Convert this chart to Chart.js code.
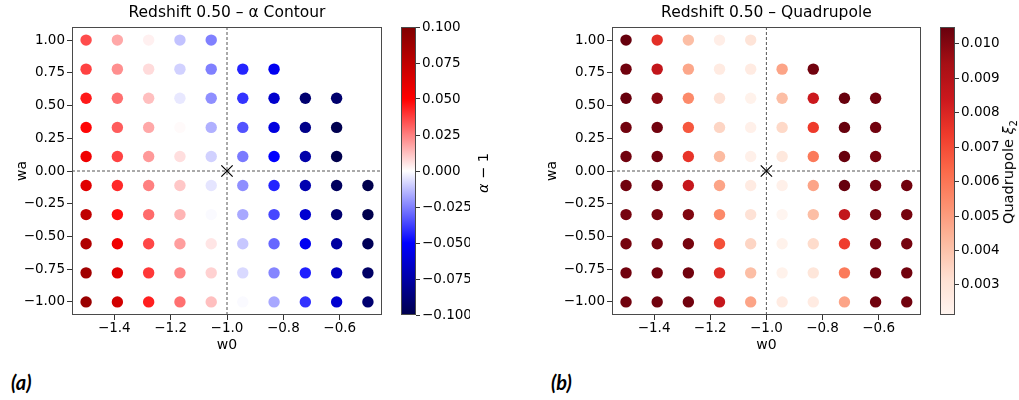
<!DOCTYPE html>
<html><head><meta charset="utf-8">
<script src="https://cdn.jsdelivr.net/npm/chart.js@4.4.1/dist/chart.umd.min.js"></script>
<style>
html,body{margin:0;padding:0;background:#fff;width:1019px;height:400px;overflow:hidden;position:relative;font-family:'DejaVu Sans',sans-serif;}
canvas{position:absolute;top:0;}
.cblabel{position:absolute;transform:translate(-50%,-50%) rotate(-90deg);white-space:nowrap;font-size:14.5px;color:#000;line-height:1;}
.panel{position:absolute;font-family:Lato,'Liberation Sans',sans-serif;font-weight:bold;font-style:italic;font-size:20px;line-height:1;color:#000;}
</style></head><body>
<canvas id="sa" width="395" height="360" style="left:0px"></canvas>
<canvas id="ca" width="80" height="360" style="left:390px"></canvas>
<canvas id="sb" width="400" height="360" style="left:530px"></canvas>
<canvas id="cb" width="89" height="360" style="left:930px"></canvas>
<div class="cblabel" style="left:483px;top:173px"><i>α</i> − 1</div>
<div class="cblabel" style="left:1010px;top:172px">Quadrupole <i>ξ</i><sub style="font-size:10px">2</sub></div>
<div class="panel" style="left:11px;top:372px">(a)</div>
<div class="panel" style="left:551px;top:372px">(b)</div>
<script>
// ---- grid coordinates ----
const W0 = [-1.5, -1.389, -1.278, -1.167, -1.056, -0.944, -0.833, -0.722, -0.611, -0.5];
const WA = [1.0, 0.778, 0.556, 0.333, 0.111, -0.111, -0.333, -0.556, -0.778, -1.0];

// ---- panel (a): alpha - 1, one array per wa row (null = no model) ----
const ALPHA_WA_P1000 = [0.035, 0.017, 0.003, -0.012, -0.025, null, null, null, null, null];
const ALPHA_WA_P0778 = [0.037, 0.022, 0.007, -0.009, -0.025, -0.043, -0.054, null, null, null];
const ALPHA_WA_P0556 = [0.045, 0.028, 0.0125, -0.0045, -0.022, -0.040, -0.064, -0.090, -0.091, null];
const ALPHA_WA_P0333 = [0.049, 0.032, 0.017, 0.001, -0.0155, -0.034, -0.059, -0.083, -0.099, null];
const ALPHA_WA_P0111 = [0.056, 0.037, 0.020, 0.0065, -0.009, -0.026, -0.050, -0.074, -0.100, null];
const ALPHA_WA_M0111 = [0.062, 0.042, 0.025, 0.011, -0.005, -0.022, -0.043, -0.072, -0.095, -0.100];
const ALPHA_WA_M0333 = [0.075, 0.047, 0.029, 0.0145, -0.001, -0.017, -0.036, -0.063, -0.090, -0.100];
const ALPHA_WA_M0556 = [0.081, 0.056, 0.036, 0.019, 0.005, -0.011, -0.030, -0.054, -0.0765, -0.097];
const ALPHA_WA_M0778 = [0.087, 0.062, 0.039, 0.0235, 0.009, -0.0075, -0.024, -0.044, -0.068, -0.093];
const ALPHA_WA_M1000 = [0.090, 0.068, 0.044, 0.028, 0.0125, -0.001, -0.017, -0.040, -0.063, -0.090];

// ---- panel (b): quadrupole xi_2 ----
const XI2_WA_P1000 = [0.01048, 0.00770, 0.00413, 0.00246, 0.00297, null, null, null, null, null];
const XI2_WA_P0778 = [0.01031, 0.00864, 0.00472, 0.00263, 0.00263, 0.00480, 0.01031, null, null, null];
const XI2_WA_P0556 = [0.01048, 0.00990, 0.00547, 0.00305, 0.00230, 0.00413, 0.00839, 0.01048, 0.01031, null];
const XI2_WA_P0333 = [0.01031, 0.01031, 0.00672, 0.00347, 0.00238, 0.00338, 0.00739, 0.01048, 0.01031, null];
const XI2_WA_P0111 = [0.01031, 0.01031, 0.00756, 0.00422, 0.00238, 0.00280, 0.00589, 0.01048, 0.01023, null];
const XI2_WA_M0111 = [0.01031, 0.01031, 0.00856, 0.00480, 0.00263, 0.00238, 0.00480, 0.01048, 0.01031, 0.01031];
const XI2_WA_M0333 = [0.01023, 0.01023, 0.01006, 0.00547, 0.00305, 0.00213, 0.00413, 0.00864, 0.01023, 0.01023];
const XI2_WA_M0556 = [0.01023, 0.01023, 0.01023, 0.00689, 0.00347, 0.00230, 0.00330, 0.00731, 0.01023, 0.01023];
const XI2_WA_M0778 = [0.01031, 0.01031, 0.01031, 0.00781, 0.00413, 0.00230, 0.00288, 0.00589, 0.01031, 0.01031];
const XI2_WA_M1000 = [0.01031, 0.01031, 0.01031, 0.00856, 0.00480, 0.00263, 0.00263, 0.00480, 0.01031, 0.01031];

// ---- ticks, ranges, labels ----
const X_MIN = -1.55, X_MAX = -0.45, Y_MIN = -1.1, Y_MAX = 1.1;
const X_TICKS = [-1.4, -1.2, -1.0, -0.8, -0.6];
const X_TICK_LABELS = ['−1.4', '−1.2', '−1.0', '−0.8', '−0.6'];
const Y_TICKS = [-1.0, -0.75, -0.5, -0.25, 0, 0.25, 0.5, 0.75, 1.0];
const Y_TICK_LABELS = ['−1.00', '−0.75', '−0.50', '−0.25', '0.00', '0.25', '0.50', '0.75', '1.00'];
const ALPHA_MIN = -0.1, ALPHA_MAX = 0.1;
const CB_A_TICKS = [-0.1, -0.075, -0.05, -0.025, 0, 0.025, 0.05, 0.075, 0.1];
const CB_A_TICK_LABELS = ['−0.100', '−0.075', '−0.050', '−0.025', '0.000', '0.025', '0.050', '0.075', '0.100'];
const XI2_MIN = 0.00213, XI2_MAX = 0.01048;
const CB_B_TICKS = [0.003, 0.004, 0.005, 0.006, 0.007, 0.008, 0.009, 0.010];
const CB_B_TICK_LABELS = ['0.003', '0.004', '0.005', '0.006', '0.007', '0.008', '0.009', '0.010'];
const FID_W0 = -1.0, FID_WA = 0.0;
const TITLE_A = 'Redshift 0.50 – α Contour';
const TITLE_B = 'Redshift 0.50 – Quadrupole';

const ALPHA_ROWS = [ALPHA_WA_P1000, ALPHA_WA_P0778, ALPHA_WA_P0556, ALPHA_WA_P0333, ALPHA_WA_P0111,
  ALPHA_WA_M0111, ALPHA_WA_M0333, ALPHA_WA_M0556, ALPHA_WA_M0778, ALPHA_WA_M1000];
const XI2_ROWS = [XI2_WA_P1000, XI2_WA_P0778, XI2_WA_P0556, XI2_WA_P0333, XI2_WA_P0111,
  XI2_WA_M0111, XI2_WA_M0333, XI2_WA_M0556, XI2_WA_M0778, XI2_WA_M1000];

// ---- colormaps ----
const SEISMIC = [[0,0,0.3],[0,0,1],[1,1,1],[1,0,0],[0.5,0,0]];
const REDS = [[1.0,0.9608,0.9412],[0.9961,0.8784,0.8235],[0.9882,0.7333,0.6314],[0.9882,0.5725,0.4471],
  [0.9843,0.4157,0.2902],[0.9373,0.2314,0.1725],[0.7961,0.0941,0.1137],[0.6471,0.0588,0.0824],[0.4039,0.0,0.0510]];
function cmapAt(stops, t) {
  t = Math.max(0, Math.min(1, t));
  const n = stops.length - 1, p = t * n, i = Math.min(Math.floor(p), n - 1), f = p - i;
  const c = stops[i].map((v, k) => v + (stops[i + 1][k] - v) * f);
  return 'rgb(' + c.map(v => Math.round(v * 255)).join(',') + ')';
}
const alphaColor = v => cmapAt(SEISMIC, (v - ALPHA_MIN) / (ALPHA_MAX - ALPHA_MIN));
const xiColor = v => cmapAt(REDS, (v - XI2_MIN) / (XI2_MAX - XI2_MIN));

Chart.defaults.font.family = "'DejaVu Sans', sans-serif";
Chart.defaults.color = '#000';

const TICK_FONT = 13.5, LABEL_FONT = 14;

const framePlugin = {
  id: 'frame',
  afterDatasetsDraw(chart) {
    const a = chart.chartArea, ctx = chart.ctx;
    ctx.save();
    ctx.strokeStyle = '#4a4a4a';
    ctx.lineWidth = 1;
    ctx.strokeRect(Math.round(a.left) + 0.5, Math.round(a.top) + 0.5,
      Math.round(a.right - a.left) - 1, Math.round(a.bottom - a.top) - 1);
    ctx.restore();
  }
};

function scatterChart(id, rows, colorFn, title, yWidth, padRight) {
  const pts = [];
  rows.forEach((row, i) => row.forEach((v, j) => { if (v !== null) pts.push({x: W0[j], y: WA[i], v: v}); }));
  return new Chart(document.getElementById(id), {
    type: 'scatter',
    data: { datasets: [
      { data: pts, order: 3, pointRadius: 5.7, pointHoverRadius: 5.7, borderWidth: 0,
        pointBackgroundColor: pts.map(p => colorFn(p.v)), backgroundColor: pts.map(p => colorFn(p.v)) },
      { data: [{x: FID_W0, y: Y_MIN}, {x: FID_W0, y: Y_MAX}], order: 2, showLine: true, pointRadius: 0,
        borderColor: '#555', borderWidth: 1, borderDash: [3, 2] },
      { data: [{x: X_MIN, y: FID_WA}, {x: X_MAX, y: FID_WA}], order: 2, showLine: true, pointRadius: 0,
        borderColor: '#555', borderWidth: 1, borderDash: [3, 2] },
      { data: [{x: FID_W0, y: FID_WA}], order: 1, pointStyle: 'crossRot', pointRadius: 8,
        borderColor: '#000', borderWidth: 1.2, backgroundColor: '#000' }
    ]},
    options: {
      responsive: false, animation: false, events: [],
      layout: { padding: { left: 0, right: padRight, top: 0, bottom: 0 } },
      plugins: {
        legend: { display: false }, tooltip: { enabled: false },
        title: { display: true, text: title, fullSize: false, color: '#000',
          font: { size: 15.5, weight: 'normal' }, padding: { top: 3.5, bottom: 4.9 } }
      },
      scales: {
        x: { type: 'linear', min: X_MIN, max: X_MAX,
          afterBuildTicks: s => { s.ticks = X_TICKS.map(v => ({ value: v })); },
          afterFit: s => { s.height = 45; },
          ticks: { callback: (v, i) => X_TICK_LABELS[i], font: { size: TICK_FONT }, color: '#000', padding: 0, maxRotation: 0, autoSkip: false },
          grid: { drawOnChartArea: false, drawTicks: true, tickLength: 5, color: '#333' },
          border: { display: false },
          title: { display: true, text: 'w0', color: '#000', font: { size: LABEL_FONT }, padding: { top: 0, bottom: 6 } } },
        y: { type: 'linear', min: Y_MIN, max: Y_MAX,
          afterBuildTicks: s => { s.ticks = Y_TICKS.map(v => ({ value: v })); },
          afterFit: s => { s.width = yWidth; },
          ticks: { callback: (v, i) => Y_TICK_LABELS[i], font: { size: TICK_FONT }, color: '#000', padding: 2, autoSkip: false },
          grid: { drawOnChartArea: false, drawTicks: true, tickLength: 5, color: '#333' },
          border: { display: false },
          title: { display: true, text: 'wa', color: '#000', font: { size: LABEL_FONT }, padding: { top: 13.5, bottom: 0 } } }
      }
    },
    plugins: [framePlugin]
  });
}

function colorbar(id, stops, vmin, vmax, ticks, labels, padLeft, axisWidth) {
  return new Chart(document.getElementById(id), {
    type: 'bar',
    data: { labels: [''], datasets: [{
      data: [[vmin, vmax]], borderWidth: 0, barPercentage: 1, categoryPercentage: 1,
      backgroundColor: c => {
        const a = c.chart.chartArea;
        if (!a) return '#fff';
        const g = c.chart.ctx.createLinearGradient(0, a.bottom, 0, a.top);
        const N = 64;
        for (let k = 0; k <= N; k++) g.addColorStop(k / N, cmapAt(stops, k / N));
        return g;
      } }] },
    options: {
      responsive: false, animation: false, events: [],
      layout: { padding: { left: padLeft, right: 0, top: 27, bottom: 45 } },
      plugins: { legend: { display: false }, tooltip: { enabled: false }, title: { display: false } },
      scales: {
        x: { display: false },
        y: { position: 'right', min: vmin, max: vmax,
          afterBuildTicks: s => { s.ticks = ticks.map(v => ({ value: v })); },
          afterFit: s => { s.width = axisWidth; },
          ticks: { callback: (v, i) => labels[i], font: { size: TICK_FONT }, color: '#000', padding: 2, autoSkip: false },
          grid: { drawOnChartArea: false, drawTicks: true, tickLength: 4, color: '#333' },
          border: { display: false } }
      }
    },
    plugins: [framePlugin]
  });
}

scatterChart('sa', ALPHA_ROWS, alphaColor, TITLE_A, 72, 13);
scatterChart('sb', XI2_ROWS, xiColor, TITLE_B, 82, 9);
colorbar('ca', SEISMIC, ALPHA_MIN, ALPHA_MAX, CB_A_TICKS, CB_A_TICK_LABELS, 11, 54);
colorbar('cb', REDS, XI2_MIN, XI2_MAX, CB_B_TICKS, CB_B_TICK_LABELS, 10, 64);
</script>
</body></html>
